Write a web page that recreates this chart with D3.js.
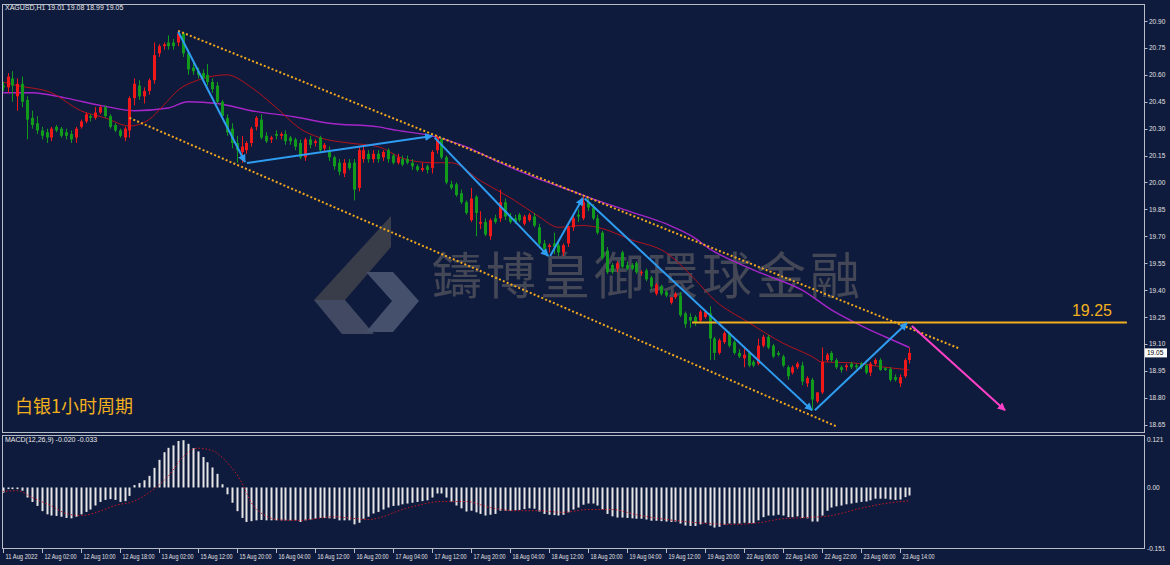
<!DOCTYPE html>
<html>
<head>
<meta charset="utf-8">
<script src="https://cdn.jsdelivr.net/npm/d3@7"></script>
<style>
  body { margin: 0; background: #0f1b3d; }
  svg { display: block; }
</style>
</head>
<body>
<script>
// XAGUSD H1 candles: [open, high, low, close]
const candles = [
  [20.54,20.56,20.51,20.53],[20.53,20.61,20.50,20.59],[20.58,20.62,20.45,20.54],[20.48,20.58,20.40,20.55],
  [20.55,20.59,20.42,20.45],[20.46,20.48,20.24,20.35],[20.36,20.40,20.30,20.32],[20.33,20.37,20.27,20.29],
  [20.29,20.31,20.24,20.26],[20.28,20.30,20.22,20.25],[20.25,20.31,20.23,20.30],[20.31,20.32,20.28,20.29],
  [20.30,20.31,20.25,20.26],[20.28,20.30,20.24,20.26],[20.27,20.29,20.22,20.24],[20.25,20.31,20.22,20.30],
  [20.31,20.35,20.30,20.34],[20.34,20.39,20.33,20.38],[20.37,20.38,20.34,20.36],[20.36,20.42,20.35,20.39],
  [20.39,20.43,20.38,20.42],[20.42,20.43,20.36,20.37],[20.37,20.38,20.30,20.31],[20.32,20.33,20.28,20.29],
  [20.29,20.30,20.25,20.26],[20.25,20.31,20.23,20.30],[20.29,20.48,20.25,20.47],[20.47,20.58,20.43,20.55],
  [20.54,20.57,20.46,20.48],[20.48,20.53,20.44,20.51],[20.51,20.58,20.49,20.57],[20.57,20.78,20.55,20.71],
  [20.72,20.77,20.70,20.76],[20.76,20.78,20.74,20.77],[20.78,20.82,20.74,20.76],[20.78,20.80,20.74,20.76],
  [20.78,20.85,20.76,20.83],[20.83,20.84,20.70,20.72],[20.72,20.74,20.60,20.63],[20.64,20.68,20.60,20.62],
  [20.62,20.64,20.58,20.60],[20.61,20.63,20.56,20.58],[20.60,20.66,20.54,20.56],[20.56,20.58,20.50,20.52],
  [20.54,20.56,20.44,20.45],[20.45,20.46,20.35,20.37],[20.36,20.38,20.26,20.28],[20.30,20.33,20.19,20.22],
  [20.22,20.26,20.11,20.18],[20.17,20.26,20.11,20.20],[20.18,20.23,20.16,20.22],[20.22,20.31,20.20,20.30],
  [20.31,20.37,20.29,20.36],[20.35,20.38,20.24,20.25],[20.26,20.28,20.22,20.23],[20.24,20.26,20.22,20.25],
  [20.27,20.29,20.24,20.26],[20.26,20.28,20.24,20.27],[20.27,20.29,20.21,20.23],[20.25,20.26,20.21,20.23],
  [20.24,20.25,20.18,20.20],[20.22,20.24,20.13,20.14],[20.14,20.25,20.12,20.24],[20.24,20.26,20.19,20.21],
  [20.22,20.24,20.20,20.23],[20.25,20.26,20.17,20.18],[20.19,20.22,20.17,20.21],[20.17,20.20,20.12,20.14],
  [20.14,20.15,20.07,20.09],[20.11,20.13,20.04,20.06],[20.05,20.13,20.03,20.11],[20.11,20.13,20.07,20.08],
  [20.11,20.13,19.90,19.96],[19.97,20.20,19.95,20.18],[20.13,20.21,20.11,20.18],[20.16,20.18,20.11,20.13],
  [20.13,20.18,20.11,20.16],[20.16,20.18,20.11,20.13],[20.14,20.18,20.12,20.17],[20.18,20.19,20.11,20.13],
  [20.15,20.16,20.10,20.11],[20.11,20.16,20.10,20.14],[20.13,20.15,20.09,20.10],[20.13,20.15,20.10,20.11],
  [20.11,20.13,20.07,20.09],[20.09,20.10,20.06,20.07],[20.07,20.11,20.06,20.08],[20.09,20.10,20.05,20.07],
  [20.08,20.18,20.05,20.17],[20.18,20.26,20.16,20.25],[20.24,20.25,20.13,20.14],[20.14,20.15,19.99,20.00],
  [19.99,20.01,19.96,19.97],[19.99,20.00,19.92,19.93],[19.94,19.96,19.88,19.89],[19.89,19.90,19.82,19.83],
  [19.79,19.97,19.78,19.91],[19.92,19.93,19.70,19.83],[19.77,19.84,19.74,19.78],[19.78,19.80,19.70,19.71],
  [19.70,19.80,19.68,19.79],[19.80,19.82,19.77,19.78],[19.80,19.96,19.78,19.89],[19.89,19.91,19.79,19.81],
  [19.81,19.83,19.77,19.78],[19.80,19.82,19.77,19.78],[19.82,19.83,19.78,19.79],[19.77,19.82,19.76,19.81],
  [19.79,19.83,19.78,19.82],[19.81,19.83,19.75,19.76],[19.75,19.77,19.65,19.66],[19.66,19.68,19.62,19.63],
  [19.64,19.66,19.61,19.65],[19.66,19.72,19.60,19.64],[19.65,19.67,19.59,19.61],[19.61,19.66,19.59,19.65],
  [19.66,19.76,19.64,19.75],[19.75,19.82,19.73,19.80],[19.82,19.85,19.78,19.81],[19.80,19.92,19.79,19.89],
  [19.89,19.91,19.84,19.86],[19.86,19.88,19.79,19.80],[19.80,19.82,19.71,19.72],[19.72,19.73,19.57,19.58],
  [19.62,19.64,19.49,19.50],[19.54,19.55,19.49,19.50],[19.52,19.56,19.50,19.55],[19.61,19.62,19.52,19.53],
  [19.54,19.56,19.51,19.52],[19.54,19.55,19.51,19.52],[19.55,19.56,19.49,19.50],[19.495,19.51,19.48,19.50],
  [19.51,19.52,19.45,19.46],[19.47,19.48,19.40,19.42],[19.38,19.44,19.37,19.43],[19.42,19.43,19.37,19.38],
  [19.39,19.40,19.36,19.37],[19.33,19.36,19.32,19.36],[19.36,19.39,19.35,19.38],[19.37,19.39,19.25,19.26],
  [19.27,19.28,19.19,19.21],[19.25,19.27,19.19,19.23],[19.25,19.26,19.20,19.22],[19.23,19.29,19.22,19.28],
  [19.25,19.29,19.24,19.28],[19.27,19.31,19.01,19.13],[19.13,19.14,19.01,19.05],[19.05,19.13,19.04,19.12],
  [19.11,19.17,19.10,19.16],[19.16,19.17,19.08,19.09],[19.11,19.12,19.04,19.05],[19.05,19.07,19.02,19.03],
  [19.02,19.08,18.97,19.04],[19.05,19.06,18.97,18.98],[19.00,19.01,18.97,18.98],[18.99,19.13,18.98,19.09],
  [19.09,19.15,19.08,19.14],[19.14,19.15,19.07,19.08],[19.09,19.10,19.02,19.03],[19.05,19.06,19.03,19.04],
  [19.03,19.04,18.97,18.98],[18.97,18.98,18.90,18.92],[18.94,18.98,18.93,18.97],[18.97,19.00,18.96,18.99],
  [18.98,19.00,18.87,18.89],[18.88,18.92,18.86,18.91],[18.90,18.91,18.73,18.79],[18.78,18.83,18.77,18.83],
  [18.83,19.08,18.82,19.00],[19.01,19.05,19.00,19.04],[19.05,19.06,19.00,19.01],[19.01,19.02,18.96,18.97],
  [18.97,18.98,18.94,18.955],[18.97,18.99,18.95,18.98],[18.99,19.00,18.96,18.97],[18.98,18.99,18.96,18.97],
  [18.99,19.00,18.96,18.97],[18.98,18.99,18.93,18.94],[18.94,19.00,18.92,18.99],[18.99,19.02,18.98,19.01],
  [19.01,19.02,18.95,18.955],[18.965,18.97,18.95,18.955],[18.96,18.97,18.89,18.90],[18.915,18.93,18.89,18.90],
  [18.88,18.93,18.86,18.915],[18.92,19.02,18.91,19.01],[19.01,19.08,18.99,19.05]
];

// moving averages sampled along the bars: [bar, price]
const maRed = [
  [0,20.56],[3,20.54],[10,20.50],[16,20.40],[21,20.36],[26,20.315],[30,20.35],[33,20.43],[36,20.515],
  [40,20.57],[46,20.60],[51,20.53],[56,20.42],[61,20.30],[65,20.25],[71,20.22],[77,20.20],[82,20.135],
  [88,20.11],[92,20.11],[98,20.01],[105,19.90],[110,19.81],[114,19.75],[119,19.76],[122,19.75],
  [129,19.68],[136,19.61],[142,19.46],[146,19.345],[153,19.22],[160,19.105],[166,19.03],[168,19.00],
  [174,18.995],[181,18.97],[186,18.955]
];
const maPurple = [
  [0,20.50],[6,20.50],[13,20.47],[20,20.43],[27,20.40],[34,20.415],[38,20.45],[44,20.44],[51,20.40],
  [60,20.365],[67,20.33],[77,20.31],[81,20.29],[88,20.26],[95,20.20],[102,20.11],[109,20.03],
  [117,19.95],[123,19.89],[129,19.835],[136,19.77],[142,19.69],[145,19.63],[150,19.56],[156,19.49],
  [164,19.40],[170,19.29],[177,19.19],[181,19.14],[186,19.08]
];

// MACD(12,26,9) main values per bar and signal line samples
const macdHist = [
  -0.013,-0.004,-0.004,-0.004,-0.008,-0.025,-0.036,-0.046,-0.059,-0.067,-0.070,-0.071,-0.073,-0.076,-0.077,-0.073,
  -0.067,-0.061,-0.055,-0.045,-0.036,-0.031,-0.029,-0.031,-0.036,-0.034,-0.021,0.006,0.011,0.018,0.029,0.049,
  0.069,0.088,0.099,0.105,0.116,0.118,0.109,0.098,0.090,0.076,0.063,0.050,0.034,0.008,-0.017,-0.038,
  -0.059,-0.076,-0.086,-0.084,-0.082,-0.081,-0.082,-0.082,-0.082,-0.082,-0.082,-0.082,-0.082,-0.086,-0.082,-0.080,
  -0.078,-0.076,-0.076,-0.077,-0.078,-0.082,-0.082,-0.082,-0.092,-0.088,-0.078,-0.073,-0.065,-0.061,-0.055,-0.050,
  -0.046,-0.045,-0.042,-0.040,-0.038,-0.036,-0.034,-0.032,-0.025,-0.015,-0.015,-0.025,-0.035,-0.045,-0.052,-0.060,
  -0.058,-0.062,-0.066,-0.070,-0.068,-0.066,-0.058,-0.058,-0.058,-0.057,-0.056,-0.054,-0.052,-0.053,-0.060,-0.066,
  -0.068,-0.069,-0.070,-0.068,-0.062,-0.055,-0.050,-0.043,-0.040,-0.040,-0.045,-0.055,-0.066,-0.072,-0.075,-0.075,
  -0.076,-0.077,-0.078,-0.078,-0.080,-0.083,-0.083,-0.084,-0.085,-0.086,-0.085,-0.090,-0.095,-0.096,-0.096,-0.092,
  -0.088,-0.095,-0.100,-0.098,-0.093,-0.090,-0.090,-0.090,-0.088,-0.089,-0.089,-0.082,-0.074,-0.070,-0.070,-0.068,
  -0.070,-0.074,-0.074,-0.072,-0.076,-0.077,-0.085,-0.085,-0.070,-0.058,-0.050,-0.047,-0.045,-0.042,-0.040,-0.038,
  -0.036,-0.035,-0.032,-0.028,-0.028,-0.028,-0.030,-0.031,-0.030,-0.024,-0.020
];
const macdSignal = [
  [0,-0.010],[3,-0.008],[6,-0.025],[10,-0.046],[13,-0.065],[16,-0.070],[20,-0.059],[23,-0.045],[27,-0.034],
  [30,-0.013],[34,0.029],[37,0.076],[40,0.098],[43,0.092],[46,0.063],[49,0.013],[51,-0.038],[54,-0.071],
  [57,-0.081],[61,-0.082],[64,-0.078],[68,-0.073],[71,-0.076],[75,-0.080],[78,-0.073],[81,-0.059],
  [85,-0.045],[90,-0.035],[95,-0.035],[100,-0.050],[105,-0.058],[110,-0.058],[115,-0.062],[120,-0.055],
  [125,-0.055],[130,-0.068],[135,-0.078],[140,-0.085],[145,-0.090],[150,-0.092],[155,-0.088],[160,-0.078],
  [165,-0.075],[170,-0.070],[175,-0.055],[180,-0.042],[186,-0.033]
];

// annotations in [bar, price]
const waveLines = [
  [[36,20.84],[49.7,20.114]],
  [[50.1,20.108],[88.1,20.259]],
  [[88.6,20.25],[111.9,19.59]],
  [[112.3,19.59],[119,19.913]],
  [[119.4,19.91],[166,18.73]],
  [[166.6,18.73],[185.5,19.217]]
];
const targetArrow = [[186.5,19.20],[205.6,18.73]];
const channelUpper = [[36,20.845],[196,19.077]];
const channelLower = [[26,20.36],[171.3,18.637]];
const levelPrice = 19.22;
const levelBars = [141.4, 230.6];
const levelText = "19.25";

const timeLabels = ["11 Aug 2022","12 Aug 02:00","12 Aug 10:00","12 Aug 18:00","13 Aug 02:00","15 Aug 12:00",
  "15 Aug 20:00","16 Aug 04:00","16 Aug 12:00","16 Aug 20:00","17 Aug 04:00","17 Aug 12:00","17 Aug 20:00",
  "18 Aug 04:00","18 Aug 12:00","18 Aug 20:00","19 Aug 04:00","19 Aug 12:00","19 Aug 20:00","22 Aug 06:00",
  "22 Aug 14:00","22 Aug 22:00","23 Aug 06:00","23 Aug 14:00"];
const priceTicks = [20.90,20.75,20.60,20.45,20.30,20.15,20.00,19.85,19.70,19.55,19.40,19.25,19.10,18.95,18.80,18.65];
const macdTicks = [0.121, 0.00, -0.151];

const W = 1170, H = 565;
const bg = "#0f1b3d";
const frame = {left: 2, right: 1144, top: 4, bottom: 432, macdTop: 435, macdBottom: 548};

const svg = d3.select("body").append("svg")
  .attr("width", W).attr("height", H)
  .style("font-family", "'Liberation Sans', Arial, sans-serif");

svg.append("rect").attr("width", W).attr("height", H).attr("fill", bg);

// scales
const x = d3.scaleLinear().domain([0, 234]).range([2.7, 2.7 + 234 * 4.875]);
const y = d3.scaleLinear().domain([18.65, 20.90]).range([424.65, 21]);
const ym = d3.scaleLinear().domain([-0.151, 0.121]).range([548, 439]);

svg.append("defs").append("clipPath").attr("id", "mainClip")
  .append("rect").attr("x", frame.left).attr("y", frame.top)
  .attr("width", frame.right - frame.left).attr("height", frame.bottom - frame.top);

["blue", "pink"].forEach((k, n) => {
  svg.select("defs").append("marker")
    .attr("id", "arrow-" + k)
    .attr("viewBox", "0 0 10 10").attr("refX", 9).attr("refY", 5)
    .attr("markerWidth", 4).attr("markerHeight", 4)
    .attr("orient", "auto")
    .append("path").attr("d", "M0,0 L10,5 L0,10 z")
    .attr("fill", n === 0 ? "#2e9cf0" : "#ff40c8");
});

const main = svg.append("g").attr("clip-path", "url(#mainClip)");

// watermark logo + text
const logo = main.append("g").attr("transform", "translate(314,216)");
logo.append("path").attr("d", "M77,0 L77,31 L31,84 L0,84 Z").attr("fill", "#393c49");
logo.append("path").attr("d", "M0,84 L31,84 L60,118 L28,118 Z").attr("fill", "#414a62");
logo.append("path").attr("d", "M52,56 L79,56 L105,85 L79,116 L52,116 L78,85 Z").attr("fill", "#45506d");
main.append("text")
  .attr("x", 432).attr("y", 294)
  .attr("font-family", "'Noto Sans CJK TC', 'Noto Sans CJK SC', sans-serif")
  .attr("font-size", 50).attr("letter-spacing", 4)
  .attr("fill", "#434756")
  .text("鑄博皇御環球金融");

// moving averages
const maLine = d3.line().x(d => x(d[0])).y(d => y(d[1])).curve(d3.curveMonotoneX);
main.append("path").datum(maPurple).attr("d", maLine)
  .attr("fill", "none").attr("stroke", "#a526c8").attr("stroke-width", 1.4);
main.append("path").datum(maRed).attr("d", maLine)
  .attr("fill", "none").attr("stroke", "#b3121c").attr("stroke-width", 1);

// candles
const up = "#f01818", down = "#129a1c";
const bars = main.append("g").selectAll("g").data(candles).join("g");
bars.append("line")
  .attr("x1", (d, i) => Math.round(x(i)) + 0.5).attr("x2", (d, i) => Math.round(x(i)) + 0.5)
  .attr("y1", d => y(d[1])).attr("y2", d => y(d[2]))
  .attr("stroke", d => d[3] >= d[0] ? up : down).attr("stroke-width", 1);
bars.append("rect")
  .attr("x", (d, i) => Math.round(x(i)) - 1)
  .attr("width", 3)
  .attr("y", d => y(Math.max(d[0], d[3])))
  .attr("height", d => Math.max(1, Math.abs(y(d[0]) - y(d[3]))))
  .attr("fill", d => d[3] >= d[0] ? up : down);

// channel (dotted orange)
const seg = d3.line().x(d => x(d[0])).y(d => y(d[1]));
[channelUpper, channelLower].forEach(c => {
  main.append("path").datum(c).attr("d", seg)
    .attr("stroke", "#f2a81c").attr("stroke-width", 2)
    .attr("stroke-dasharray", "2,2.2").attr("fill", "none");
});

// horizontal level
main.append("line")
  .attr("x1", x(levelBars[0])).attr("x2", x(levelBars[1]))
  .attr("y1", y(levelPrice)).attr("y2", y(levelPrice))
  .attr("stroke", "#f2b01e").attr("stroke-width", 2);
main.append("text")
  .attr("x", 1112).attr("y", y(levelPrice) - 6)
  .attr("text-anchor", "end")
  .attr("font-size", 16).attr("fill", "#f2b01e")
  .text(levelText);

// wave arrows
waveLines.forEach(w => {
  main.append("path").datum(w).attr("d", seg)
    .attr("stroke", "#2e9cf0").attr("stroke-width", 2).attr("fill", "none")
    .attr("marker-end", "url(#arrow-blue)");
});
main.append("path").datum(targetArrow).attr("d", seg)
  .attr("stroke", "#ff40c8").attr("stroke-width", 2).attr("fill", "none")
  .attr("marker-end", "url(#arrow-pink)");

// title label
main.append("text")
  .attr("x", 15).attr("y", 413)
  .attr("font-family", "'Noto Sans CJK SC', sans-serif")
  .attr("font-size", 18).attr("fill", "#f2b01e")
  .text("白银1小时周期");

// header
svg.append("text").attr("x", 5).attr("y", 10)
  .attr("font-size", 7).attr("fill", "#e8e8e8")
  .text("XAGUSD,H1  19.01 19.08 18.99 19.05");

// MACD panel
const macd = svg.append("g");
macd.selectAll("rect").data(macdHist).join("rect")
  .attr("x", (d, i) => Math.round(x(i)) - 0.5)
  .attr("width", 2)
  .attr("y", d => Math.min(ym(d), ym(0)))
  .attr("height", d => Math.max(1, Math.abs(ym(d) - ym(0))))
  .attr("fill", "#e6e6e6");
macd.append("path").datum(macdSignal)
  .attr("d", d3.line().x(d => x(d[0])).y(d => ym(d[1])).curve(d3.curveMonotoneX))
  .attr("fill", "none").attr("stroke", "#c81822").attr("stroke-width", 1)
  .attr("stroke-dasharray", "1.5,2");
svg.append("text").attr("x", 5).attr("y", 442)
  .attr("font-size", 7).attr("fill", "#e8e8e8")
  .text("MACD(12,26,9) -0.020 -0.033");

// frames
const fr = svg.append("g").attr("fill", "none").attr("stroke", "#b8bcc8").attr("stroke-width", 1);
fr.append("rect").attr("x", frame.left + 0.5).attr("y", frame.top + 0.5)
  .attr("width", frame.right - frame.left).attr("height", frame.bottom - frame.top);
fr.append("rect").attr("x", frame.left + 0.5).attr("y", frame.macdTop + 0.5)
  .attr("width", frame.right - frame.left).attr("height", frame.macdBottom - frame.macdTop);

// price axis
const pa = svg.append("g").attr("fill", "#e0e0e0").attr("font-size", 6.5);
priceTicks.forEach(p => {
  pa.append("line").attr("x1", frame.right + 0.5).attr("x2", frame.right + 3.5)
    .attr("y1", Math.round(y(p)) + 0.5).attr("y2", Math.round(y(p)) + 0.5)
    .attr("stroke", "#b8bcc8");
  pa.append("text").attr("x", 1149).attr("y", y(p) + 2.5).text(p.toFixed(2));
});
macdTicks.forEach(v => {
  pa.append("text").attr("x", 1147).attr("y", ym(v) + 2.5)
    .text(v === 0 ? "0.00" : v.toFixed(3));
});

// current price tag
const last = candles[candles.length - 1][3];
svg.append("rect").attr("x", 1145).attr("y", y(last) - 4.5).attr("width", 22).attr("height", 9)
  .attr("fill", "#ffffff");
svg.append("text").attr("x", 1147).attr("y", y(last) + 2.5)
  .attr("font-size", 6.5).attr("fill", "#000").text(last.toFixed(2));

// time axis
const ta = svg.append("g").attr("fill", "#e0e0e0").attr("font-size", 6.5);
timeLabels.forEach((t, k) => {
  const xx = Math.round(x(k * 8)) + 0.5;
  ta.append("line").attr("x1", xx).attr("x2", xx).attr("y1", frame.macdBottom + 1).attr("y2", frame.macdBottom + 5)
    .attr("stroke", "#b8bcc8");
  ta.append("text").attr("x", xx + 2).attr("y", 559)
    .attr("textLength", 32).attr("lengthAdjust", "spacingAndGlyphs")
    .text(t);
});
</script>
</body>
</html>
